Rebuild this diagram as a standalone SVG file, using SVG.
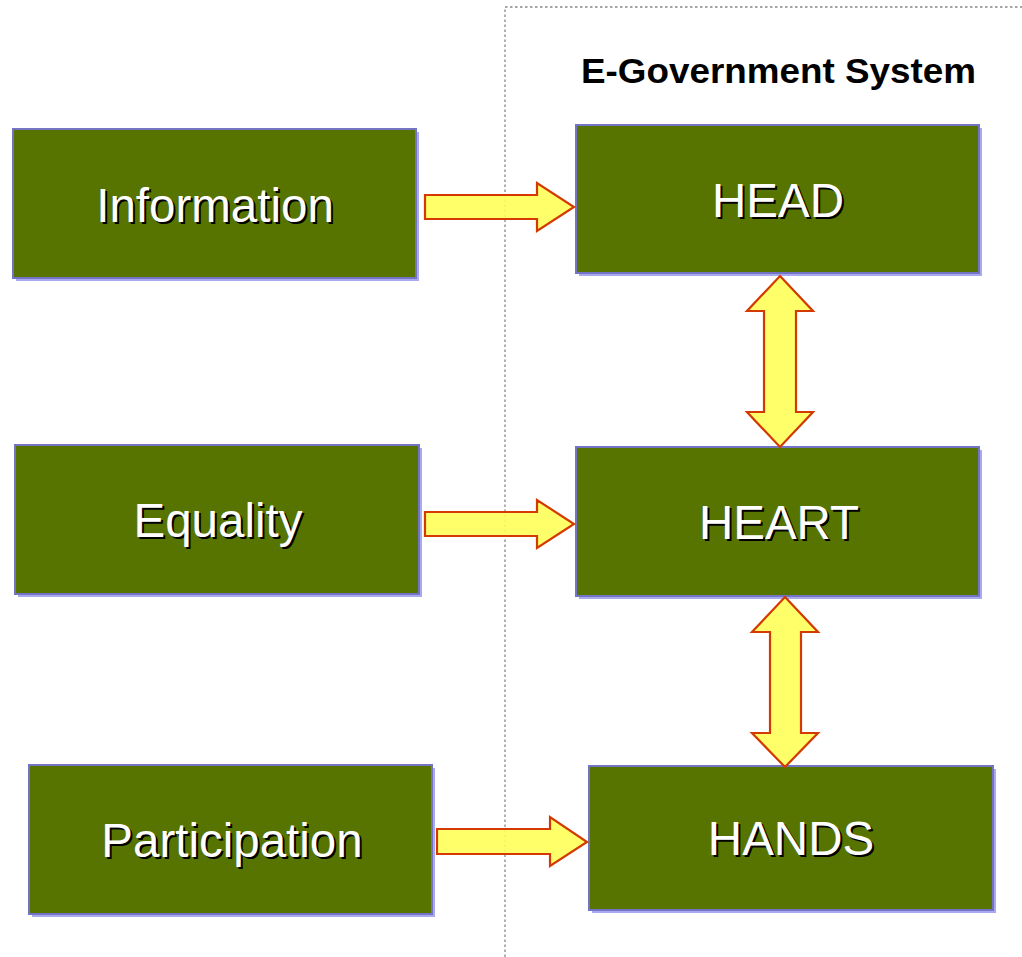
<svg xmlns="http://www.w3.org/2000/svg" width="1022" height="957" viewBox="0 0 1022 957">
<style>
.shadow{fill:#a9a9ef}
.box{fill:#587400;stroke:#7474c4;stroke-width:2}
.lbl{font-family:"Liberation Sans",Arial,sans-serif;font-size:47.5px;text-anchor:middle}
.sh{fill:#000}
.fg{fill:#fff}
.arrow{fill:#ffff55;fill-opacity:0.88;stroke:#d43a00;stroke-width:2.2;stroke-linejoin:miter}
.title{font-family:"Liberation Sans",Arial,sans-serif;font-size:35.5px;font-weight:bold;fill:#000}
.frame{fill:none;stroke:#888;stroke-width:1.3;stroke-dasharray:2.5,2.5}
</style>
<rect width="1022" height="957" fill="#fff"/>
<path class="frame" d="M505,957 V7 H1022"/>
<text class="title" x="581" y="83" textLength="395" lengthAdjust="spacingAndGlyphs">E-Government System</text>

<g id="node-information">
<rect class="shadow" x="16" y="132" width="403" height="149"/>
<rect class="box" x="13" y="129" width="403" height="149"/>
<text class="lbl sh" x="217" y="224">Information</text>
<text class="lbl fg" x="215" y="222">Information</text>
</g>
<g id="node-equality">
<rect class="shadow" x="18" y="448" width="404" height="149"/>
<rect class="box" x="15" y="445" width="404" height="149"/>
<text class="lbl sh" x="220" y="539">Equality</text>
<text class="lbl fg" x="218" y="537">Equality</text>
</g>
<g id="node-participation">
<rect class="shadow" x="32" y="768" width="403" height="149"/>
<rect class="box" x="29" y="765" width="403" height="149"/>
<text class="lbl sh" x="234" y="859">Participation</text>
<text class="lbl fg" x="232" y="857">Participation</text>
</g>
<g id="node-head">
<rect class="shadow" x="579" y="128" width="403" height="148"/>
<rect class="box" x="576" y="125" width="403" height="148"/>
<text class="lbl sh" x="780" y="219">HEAD</text>
<text class="lbl fg" x="778" y="217">HEAD</text>
</g>
<g id="node-heart">
<rect class="shadow" x="579" y="450" width="403" height="149"/>
<rect class="box" x="576" y="447" width="403" height="149"/>
<text class="lbl sh" x="781" y="541">HEART</text>
<text class="lbl fg" x="779" y="539">HEART</text>
</g>
<g id="node-hands">
<rect class="shadow" x="592" y="769" width="404" height="144"/>
<rect class="box" x="589" y="766" width="404" height="144"/>
<text class="lbl sh" x="793" y="857">HANDS</text>
<text class="lbl fg" x="791" y="855">HANDS</text>
</g>

<g id="connectors">
<path class="arrow" d="M425,195 H537 V183 L574,207 L537,231 V219 H425 Z"/>
<path class="arrow" d="M425,512 H537 V500 L574,524 L537,548 V536 H425 Z"/>
<path class="arrow" d="M437,829 H550 V817 L587,842 L550,866 V854 H437 Z"/>
<path class="arrow" d="M780,276 L813,311 H796 V412 H813 L780,447 L747,412 H764 V311 H747 Z"/>
<path class="arrow" d="M785,597 L818,632 H801 V733 H818 L785,767 L752,733 H770 V632 H752 Z"/>
</g>
</svg>
